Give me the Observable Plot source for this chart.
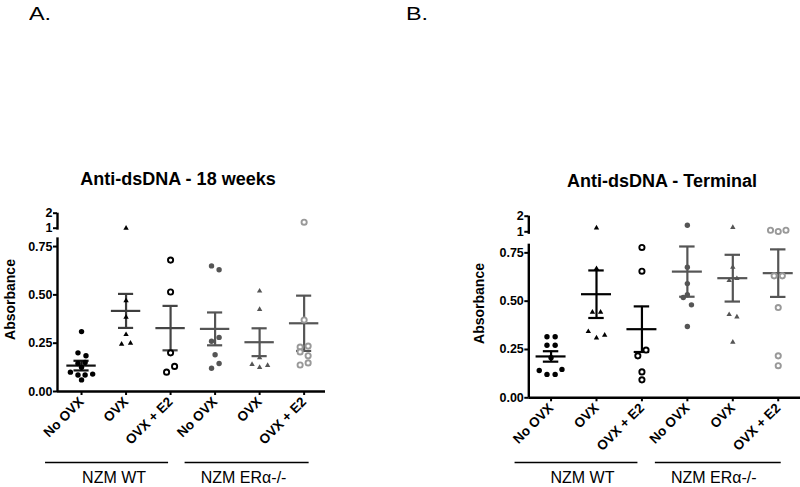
<!DOCTYPE html>
<html><head><meta charset="utf-8">
<script src="https://cdn.jsdelivr.net/npm/d3@7"></script>
<script src="https://cdn.jsdelivr.net/npm/@observablehq/plot@0.6"></script>
<style>
body{margin:0;background:#fff;font-family:"Liberation Sans",Arial,sans-serif;}
#wrap{position:relative;width:800px;height:487px;overflow:hidden;background:#fff;}
.panel{position:absolute;top:0;}
.lbl{position:absolute;font-size:18px;line-height:18px;color:#000;transform:scaleX(1.3);transform-origin:left top;}
.ttl{position:absolute;font-weight:bold;font-size:18px;line-height:18px;transform:translateX(-50%);white-space:nowrap;color:#000;}
</style></head><body>
<div id="wrap">
  <div class="lbl" style="left:29px;top:5px">A.</div>
  <div class="lbl" style="left:406px;top:5px">B.</div>
  <div class="ttl" style="left:178px;top:170px">Anti-dsDNA - 18 weeks</div>
  <div class="ttl" style="left:662px;top:172px">Anti-dsDNA - Terminal</div>
  <div id="pA" class="panel" style="left:0"></div>
  <div id="pB" class="panel" style="left:400px"></div>
</div>
<script>
// ---------- data ----------
const categories = ["No OVX", "OVX", "OVX + E2", "No OVX", "OVX", "OVX + E2"];
const genotypes = ["NZM WT", "NZM ERα-/-"];
const yTickValues = [0, 0.25, 0.5, 0.75, 1, 2];
const axisLabel = "Absorbance";

// Panel A: Anti-dsDNA - 18 weeks (individual absorbances per group)
const panelA_values = [
  [0.31, 0.20, 0.185, 0.15, 0.145, 0.125, 0.10, 0.09, 0.085, 0.085, 0.06],
  [1.0, 0.47, 0.385, 0.295, 0.245, 0.25],
  [0.68, 0.515, 0.20, 0.13, 0.10],
  [0.65, 0.63, 0.28, 0.26, 0.19, 0.145, 0.12],
  [0.52, 0.425, 0.175, 0.14, 0.125, 0.135],
  [1.4, 0.37, 0.235, 0.23, 0.205, 0.185, 0.148, 0.137]
];
const panelA_jitter = [
  [0, -0.08, 0.1, 0.08, -0.08, 0, -0.25, 0.25, -0.08, 0.08, 0],
  [0, 0, 0, 0, -0.1, 0.1],
  [0, 0, 0, 0.09, -0.09],
  [-0.08, 0.09, 0.09, -0.08, 0, 0.09, -0.08],
  [0, 0, 0, -0.17, 0, 0.18],
  [0, 0, 0.09, -0.09, -0.09, 0.09, 0.09, -0.09]
];
const panelA_means = [0.134, 0.417, 0.328, 0.324, 0.255, 0.353];
const panelA_sem   = [0.025, 0.088, 0.115, 0.085, 0.072, 0.143];

// Panel B: Anti-dsDNA - Terminal
const panelB_values = [
  [0.316, 0.316, 0.272, 0.272, 0.207, 0.141, 0.147, 0.121, 0.121],
  [1.25, 0.669, 0.443, 0.443, 0.343, 0.31, 0.324],
  [0.778, 0.655, 0.247, 0.217, 0.134, 0.093],
  [1.42, 0.676, 0.591, 0.533, 0.519, 0.481, 0.369],
  [1.28, 0.676, 0.607, 0.617, 0.431, 0.419, 0.288],
  [1.1, 1.02, 1.1, 0.631, 0.631, 0.467, 0.217, 0.166]
];
const panelB_jitter = [
  [-0.09, 0.09, -0.09, 0.09, 0, -0.26, 0.24, -0.09, 0.09],
  [0, 0, -0.09, 0.09, -0.18, 0, 0.18],
  [0, 0, 0.09, -0.09, 0, 0],
  [0, 0, 0, 0, -0.09, 0.09, 0],
  [0, 0, -0.08, 0.09, -0.08, 0.09, 0],
  [-0.17, 0, 0.17, -0.09, 0.09, 0, 0, 0]
];
const panelB_means = [0.214, 0.536, 0.355, 0.653, 0.619, 0.645];
const panelB_sem   = [0.027, 0.123, 0.118, 0.130, 0.121, 0.123];

// ---------- styles ----------
const groupSymbol = ["circle", "triangle", "circle", "circle", "triangle", "circle"];
const groupFill   = ["#000", "#000", "#fff", "#555", "#555", "#fff"];
const groupStroke = ["none", "none", "#000", "none", "none", "#999"];
const groupR      = [2.7, 2.0, 2.6, 2.7, 2.0, 2.6];
const barColorsA  = ["#111", "#3d3d3d", "#454545", "#555", "#555", "#555"];
const barColorsB  = ["#000", "#000", "#000", "#555", "#555", "#555"];
const FONT = "Liberation Sans, Arial, sans-serif";

function buildPanel(cfg) {
  const pts = cfg.values.flatMap((vals, g) => vals.map((v, k) => ({g, v, x: g + cfg.jitter[g][k]})));
  const stats = cfg.means.map((m, g) => ({g, m, lo: m - cfg.sems[g], hi: m + cfg.sems[g]}));
  const x0 = cfg.xDomain[0];
  const marks = [
    Plot.ruleX([x0], {y1: 0, y2: 0.795, strokeWidth: 2.4, stroke: "#000"}),
    Plot.ruleX([x0], {y1: 0.955, y2: 2, strokeWidth: 2.4, stroke: "#000"}),
    Plot.ruleY([0], {strokeWidth: 2.4, stroke: "#000"}),
    Plot.axisY({ticks: yTickValues, tickFormat: d => d >= 1 ? String(d) : d.toFixed(2),
      tickSize: 4, tickPadding: 1, strokeWidth: 2, fontSize: 12.5, fontWeight: "bold", label: null}),
    Plot.axisX({ticks: [0, 1, 2, 3, 4, 5], tickFormat: i => categories[i], tickRotate: -45,
      tickSize: 4, tickPadding: 4, strokeWidth: 2, fontSize: 13.5, fontWeight: "bold", label: null}),
    Plot.text([axisLabel], {frameAnchor: "left", y: () => cfg.labelY, dx: cfg.labelDx, rotate: -90,
      textAnchor: "middle", fontSize: 14, fontWeight: "bold"}),
    // mean and SEM
    Plot.ruleX(stats, {x: "g", y1: "lo", y2: "hi", stroke: d => cfg.bars[d.g], strokeWidth: 2.2}),
    Plot.ruleY(stats, {y: "m", x1: d => d.g - 0.33, x2: d => d.g + 0.33, stroke: d => cfg.bars[d.g], strokeWidth: 2.2}),
    Plot.ruleY(stats, {y: "hi", x1: d => d.g - 0.17, x2: d => d.g + 0.17, stroke: d => cfg.bars[d.g], strokeWidth: 2.2}),
    Plot.ruleY(stats, {y: "lo", x1: d => d.g - 0.17, x2: d => d.g + 0.17, stroke: d => cfg.bars[d.g], strokeWidth: 2.2}),
  ];
  for (let g = 0; g < 6; g++) {
    marks.push(Plot.dot(pts.filter(p => p.g === g), {x: "x", y: "v", symbol: groupSymbol[g],
      fill: groupFill[g], stroke: groupStroke[g], strokeWidth: 1.9, r: groupR[g]}));
  }
  // genotype group lines and labels
  genotypes.forEach((name, k) => {
    marks.push(Plot.ruleY([name], {y: () => 0, x1: () => k * 3, x2: () => k * 3 + 2, dy: cfg.lineDy,
      insetLeft: cfg.lineInsets[k][0], insetRight: cfg.lineInsets[k][1], stroke: "#000", strokeWidth: 1.5}));
    marks.push(Plot.text([name], {x: () => k * 3 + 1, y: () => 0, text: d => d, dx: cfg.textDx[k], dy: cfg.textDy,
      lineAnchor: "top", fontSize: 16, fontWeight: "normal"}));
  });
  return Plot.plot({
    width: 400, height: 487,
    marginLeft: cfg.marginLeft, marginRight: cfg.marginRight, marginTop: 0, marginBottom: cfg.marginBottom,
    style: {fontFamily: FONT, background: "transparent", overflow: "visible", color: "#000"},
    x: {type: "linear", domain: cfg.xDomain, axis: null},
    y: {type: "linear", domain: [0, 0.8, 1, 2], range: cfg.yRange, axis: null},
    color: {type: "identity"},
    marks
  });
}

document.getElementById("pA").appendChild(buildPanel({
  values: panelA_values, jitter: panelA_jitter, means: panelA_means, sems: panelA_sem, bars: barColorsA,
  xDomain: [-0.54, 5.48], marginLeft: 57, marginRight: 75, marginBottom: 96,
  yRange: [391, 236.4, 227.7, 212.7],
  labelY: 0.476, labelDx: -47,
  lineDy: 71, lineInsets: [[-36, 2], [-30, -5]], textDy: 80, textDx: [-12, -16]
}));
document.getElementById("pB").appendChild(buildPanel({
  values: panelB_values, jitter: panelB_jitter, means: panelB_means, sems: panelB_sem, bars: barColorsB,
  xDomain: [-0.49, 5.49], marginLeft: 128.3, marginRight: 0, marginBottom: 89.7,
  yRange: [397.3, 242.7, 231.3, 215.7],
  labelY: 0.488, labelDx: -49,
  lineDy: 64.7, lineInsets: [[-36, 4], [-32, -3]], textDy: 74.2, textDx: [-14, -19]
}));
</script>
</body></html>
